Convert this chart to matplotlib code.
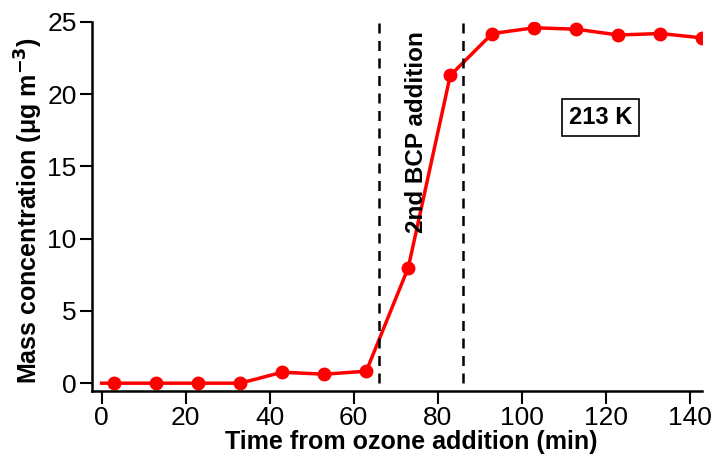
import matplotlib
matplotlib.use("Agg")
import matplotlib.pyplot as plt

plt.rcParams['font.family'] = ['Liberation Sans', 'DejaVu Sans']

# data
time = [0, 3, 13, 23, 33, 43, 53, 63, 73, 83, 93, 103, 113, 123, 133, 143]
mass = [0, 0, 0, 0, 0, 0.76, 0.62, 0.83, 8.0, 21.3, 24.2, 24.6, 24.5, 24.1, 24.2, 23.9]
bcp_lines = [66, 86]

fig = plt.figure(figsize=(7.13, 4.58), dpi=100)
ax = fig.add_axes([0.129, 0.146, 0.856, 0.806])

ax.plot(time, mass, color='red', lw=2.5, marker='o', ms=9,
        markevery=list(range(1, len(time))), solid_joinstyle='round')
for xv in bcp_lines:
    ax.plot([xv, xv], [0, 25], color='black', lw=1.8, ls=(0, (4, 3)))

ax.text(75, 17.4, '2nd BCP addition', rotation=90, ha='center', va='center',
        fontsize=17.5, fontweight='bold')
ax.text(118.8, 18.4, '213 K', ha='center', va='center', fontsize=17,
        fontweight='bold',
        bbox=dict(boxstyle='square,pad=0.3', fc='white', ec='black', lw=1.2))

ax.set_xlim(-2.3, 143)
ax.set_ylim(-0.55, 25)
ax.set_xticks(range(0, 141, 20))
ax.set_yticks(range(0, 26, 5))
for s in ['top', 'right']:
    ax.spines[s].set_visible(False)
for s in ['left', 'bottom']:
    ax.spines[s].set_linewidth(1.8)
ax.tick_params(direction='out', length=9, width=1.5, labelsize=19, pad=2)

ax.set_xlabel('Time from ozone addition (min)', fontsize=18, fontweight='bold')
ax.xaxis.set_label_coords(0.523, -0.105)
ax.set_ylabel('Mass concentration (μg m$^{\\mathbf{-3}}$)', fontsize=18,
              fontweight='bold')
ax.yaxis.set_label_coords(-0.077, 0.49)

fig.savefig('out.png', dpi=100)
